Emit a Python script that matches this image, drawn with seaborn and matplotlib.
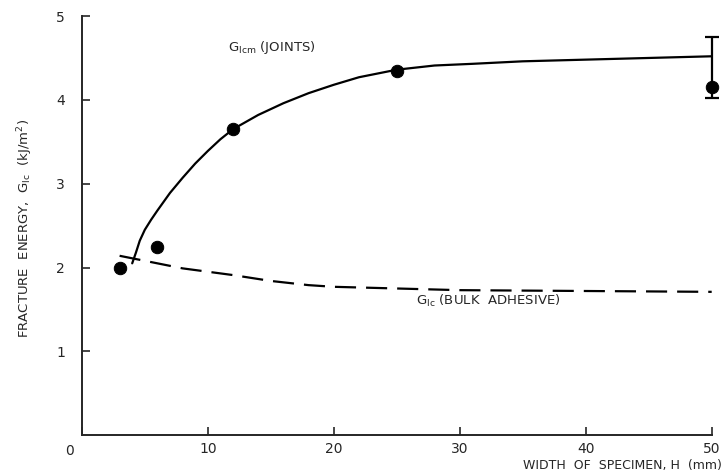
import matplotlib
matplotlib.use("Agg")
import matplotlib.pyplot as plt
import seaborn as sns
import pandas as pd

# measured joints (points)
width_pts = [3, 6, 12, 25, 50]
g_pts = [2.0, 2.25, 3.65, 4.35, 4.15]

# error bar at H = 50 mm
err_x = 50
err_y = 4.15
err_low = 0.13
err_high = 0.60

# G_Icm curve (joints)
joint_x = [4, 4.3, 4.6, 5, 5.5, 6, 7, 8, 9, 10, 11, 12, 14, 16, 18, 20, 22, 25, 28, 31, 35, 40, 45, 50]
joint_y = [2.05, 2.18, 2.32, 2.45, 2.57, 2.68, 2.89, 3.07, 3.24, 3.39, 3.53, 3.65, 3.82, 3.96,
           4.08, 4.18, 4.27, 4.36, 4.41, 4.43, 4.46, 4.48, 4.5, 4.52]

# G_Ic bulk adhesive (dashed)
bulk_x = [3, 5, 8, 10, 12, 15, 18, 20, 25, 30, 40, 50]
bulk_y = [2.14, 2.08, 1.99, 1.95, 1.91, 1.84, 1.79, 1.77, 1.75, 1.73, 1.72, 1.71]

x_ticks = [0, 10, 20, 30, 40, 50]
y_ticks = [1, 2, 3, 4, 5]

sns.set_style("ticks")
plt.rcParams['font.family'] = ['DejaVu Sans']

fig = plt.figure(figsize=(7.24, 4.72), dpi=100)
ax = fig.add_axes([0.113, 0.078, 0.870, 0.888])

joints = pd.DataFrame({'H': joint_x, 'G': joint_y})
bulk = pd.DataFrame({'H': bulk_x, 'G': bulk_y})
pts = pd.DataFrame({'H': width_pts, 'G': g_pts})

sns.lineplot(data=joints, x='H', y='G', ax=ax, color='black', linewidth=1.6, clip_on=False)
sns.lineplot(data=bulk, x='H', y='G', ax=ax, color='black', linewidth=1.6)
ax.lines[-1].set_dashes((9.5, 4.5))
sns.scatterplot(data=pts, x='H', y='G', ax=ax, color='black', s=80, edgecolor='black',
                zorder=5, clip_on=False)
ax.errorbar([err_x], [err_y], yerr=[[err_low], [err_high]], fmt='none', ecolor='black',
            elinewidth=1.6, capsize=5, capthick=1.6, clip_on=False)

ax.set_xlim(0, 50)
ax.set_ylim(0, 5)
ax.set_xticks(x_ticks)
ax.set_xticklabels([''] + [str(t) for t in x_ticks[1:]])
ax.set_yticks(y_ticks)
ax.set_yticklabels([str(t) for t in y_ticks])
ax.tick_params(direction='in', length=6, width=1.2, labelsize=10)
ax.tick_params(axis='x', pad=5)
ax.tick_params(axis='y', pad=12)
for s in ['left', 'bottom']:
    ax.spines[s].set_linewidth(1.4)
sns.despine(ax=ax)

ax.text(-1.0, -0.1, '0', ha='center', va='top', fontsize=10)

ax.set_xlabel('')
ax.set_ylabel('')
fig.text(0.997, 0.0, 'WIDTH  OF  SPECIMEN, H  (mm)', ha='right', va='bottom', fontsize=9)
fig.text(0.035, 0.515, r'FRACTURE  ENERGY,  G$_{\mathrm{Ic}}$  (kJ/m$^2$)', rotation=90,
         ha='center', va='center', fontsize=9.5)

ax.text(11.6, 4.62, r'G$_{\mathrm{Icm}}$ (JOINTS)', fontsize=9.5, va='center')
ax.text(26.5, 1.6, r'G$_{\mathrm{Ic}}$ (BULK  ADHESIVE)', fontsize=9.5, va='center')

fig.savefig('out.png', dpi=100, facecolor='white')
